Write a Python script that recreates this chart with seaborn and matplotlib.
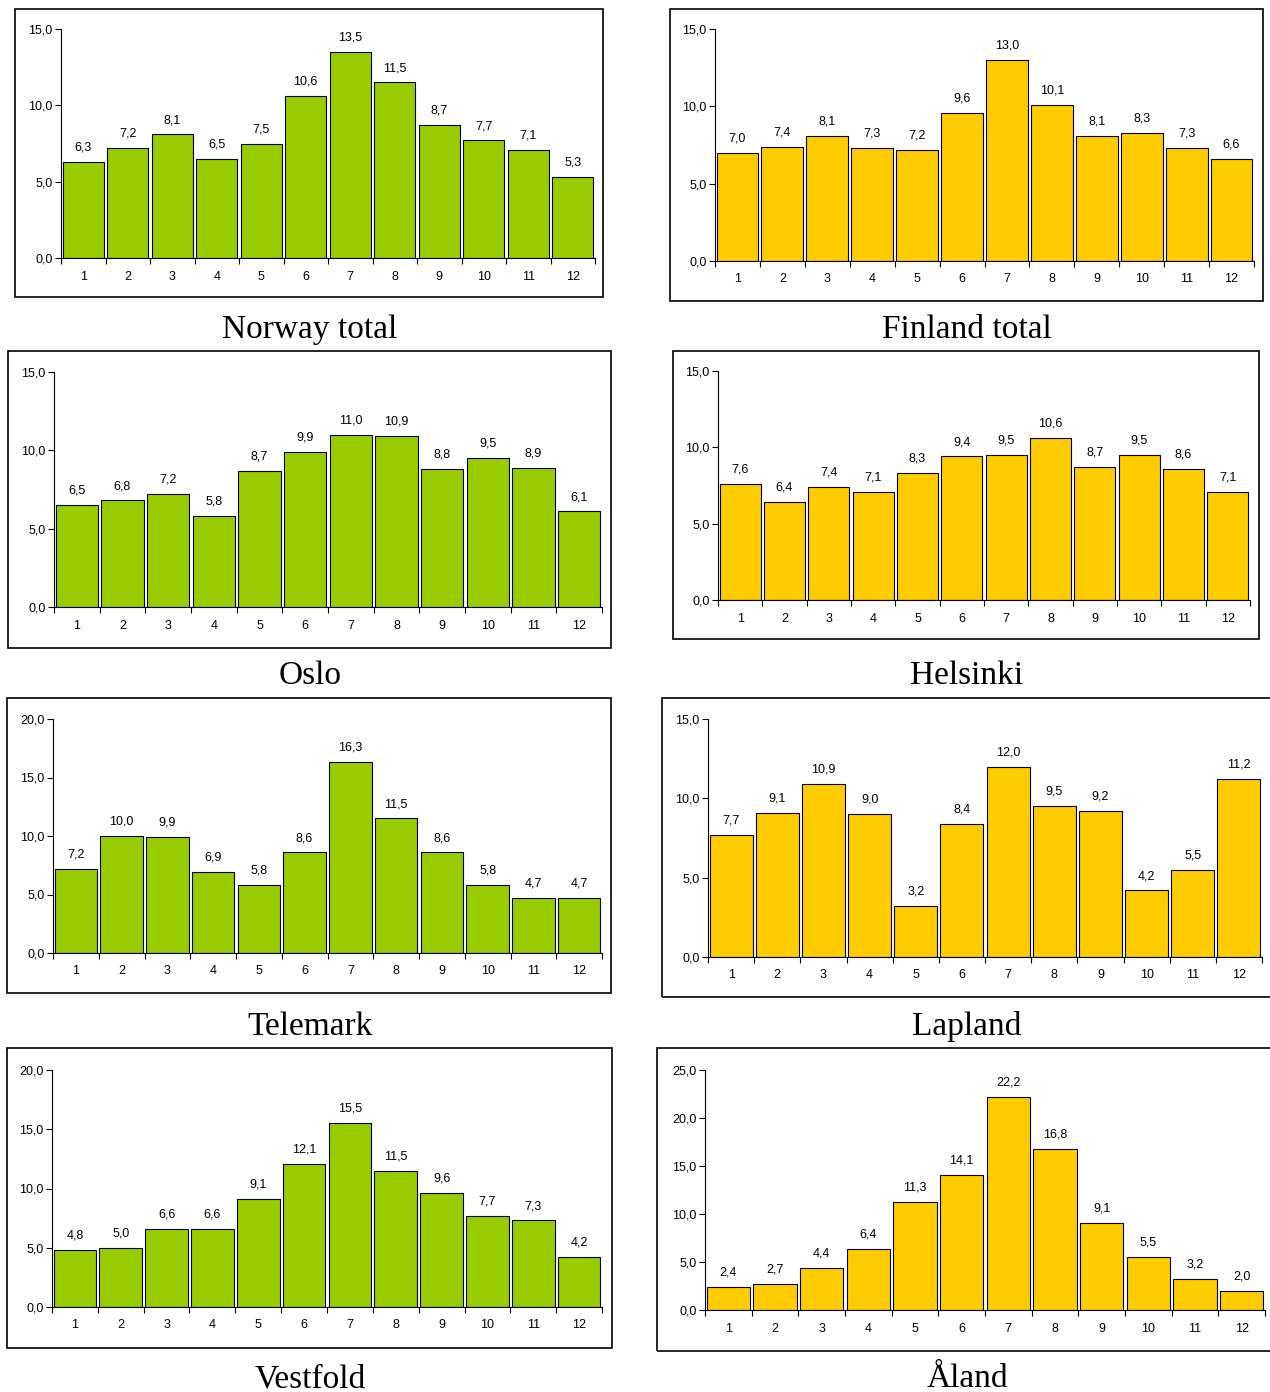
import numpy as np
import pandas as pd
import seaborn as sns
import matplotlib.pyplot as plt
from matplotlib.patches import Rectangle

months = [str(m) for m in range(1, 13)]

norway_total = [6.3, 7.2, 8.1, 6.5, 7.5, 10.6, 13.5, 11.5, 8.7, 7.7, 7.1, 5.3]
finland_total = [7.0, 7.4, 8.1, 7.3, 7.2, 9.6, 13.0, 10.1, 8.1, 8.3, 7.3, 6.6]
oslo = [6.5, 6.8, 7.2, 5.8, 8.7, 9.9, 11.0, 10.9, 8.8, 9.5, 8.9, 6.1]
helsinki = [7.6, 6.4, 7.4, 7.1, 8.3, 9.4, 9.5, 10.6, 8.7, 9.5, 8.6, 7.1]
telemark = [7.2, 10.0, 9.9, 6.9, 5.8, 8.6, 16.3, 11.5, 8.6, 5.8, 4.7, 4.7]
lapland = [7.7, 9.1, 10.9, 9.0, 3.2, 8.4, 12.0, 9.5, 9.2, 4.2, 5.5, 11.2]
vestfold = [4.8, 5.0, 6.6, 6.6, 9.1, 12.1, 15.5, 11.5, 9.6, 7.7, 7.3, 4.2]
aland = [2.4, 2.7, 4.4, 6.4, 11.3, 14.1, 22.2, 16.8, 9.1, 5.5, 3.2, 2.0]

GREEN = '#99CC00'
YELLOW = '#FFCC00'

W, H = 1270, 1392

# (title, values, ymax, color, box px (x0, y0, x1, y1), axes px (left, top, right, bottom), title x, title baseline px)
panels = [
    ("Norway total", norway_total, 15, GREEN, (15, 9, 603, 297), (61, 29, 595, 258), 310, 338),
    ("Finland total", finland_total, 15, YELLOW, (670, 9, 1263, 301), (715, 29, 1254, 261), 967, 338),
    ("Oslo", oslo, 15, GREEN, (8, 351, 611, 648), (54, 372, 602, 607), 310, 684),
    ("Helsinki", helsinki, 15, YELLOW, (673, 351, 1259, 639), (718, 371, 1250, 600), 967, 684),
    ("Telemark", telemark, 20, GREEN, (7, 698, 611, 993), (53, 719, 602, 953), 310, 1035),
    ("Lapland", lapland, 15, YELLOW, (662, 698, 1272, 997), (708, 719, 1262, 957), 967, 1035),
    ("Vestfold", vestfold, 20, GREEN, (7, 1048, 612, 1348), (52, 1070, 602, 1307), 310, 1387),
    ("\u00c5land", aland, 25, YELLOW, (657, 1048, 1272, 1351), (705, 1070, 1265, 1310), 967, 1387),
]

sns.set_style("white")
plt.rcParams['font.family'] = ['Liberation Sans', 'DejaVu Sans']
plt.rcParams['text.color'] = 'black'
plt.rcParams['xtick.color'] = 'black'
plt.rcParams['ytick.color'] = 'black'

fig = plt.figure(figsize=(W / 100, H / 100), dpi=100)


def fx(x):
    return x / W


def fy(y):
    return 1 - y / H


for title, values, ymax, color, box, axpx, tx, ty in panels:
    # frame around each chart
    bx0, by0, bx1, by1 = box
    fig.patches.append(Rectangle((fx(bx0), fy(by1)), fx(bx1 - bx0), (by1 - by0) / H,
                                 transform=fig.transFigure, fill=False,
                                 edgecolor='black', linewidth=1.2, zorder=0))

    l, t, r, b = axpx
    ax = fig.add_axes([fx(l), fy(b), fx(r - l), (b - t) / H])
    df = pd.DataFrame({'month': months, 'value': values})
    sns.barplot(data=df, x='month', y='value', color=color, saturation=1,
                edgecolor='black', linewidth=0.8, width=0.93, ax=ax)

    ax.set_xlim(-0.5, 11.5)
    ax.set_ylim(0, ymax)
    ticks = np.arange(0, ymax + 1, 5)
    ax.set_yticks(ticks)
    ax.set_yticklabels([f"{v:.1f}".replace('.', ',') for v in ticks])
    ax.set_xticks(range(12))
    ax.set_xticklabels(months)
    ax.set_xticks(np.arange(-0.5, 12, 1), minor=True)
    ax.tick_params(axis='x', which='major', length=0, pad=9, labelsize=9)
    ax.tick_params(axis='x', which='minor', length=4, width=0.8, direction='out', bottom=True)
    ax.tick_params(axis='y', length=4, width=0.8, direction='out', left=True, pad=2, labelsize=9)
    ax.set_xlabel('')
    ax.set_ylabel('')
    ax.set_facecolor('none')

    for side in ['top', 'right']:
        ax.spines[side].set_visible(False)
    for side in ['left', 'bottom']:
        ax.spines[side].set_color('black')
        ax.spines[side].set_linewidth(0.8)

    ax.bar_label(ax.containers[0], labels=[f"{v:.1f}".replace('.', ',') for v in values],
                 padding=6, fontsize=9)

    fig.text(fx(tx), fy(ty), title, ha='center', va='baseline',
             fontsize=24, family='Liberation Serif', color='black')

fig.savefig("out.png", dpi=100, facecolor='white')
